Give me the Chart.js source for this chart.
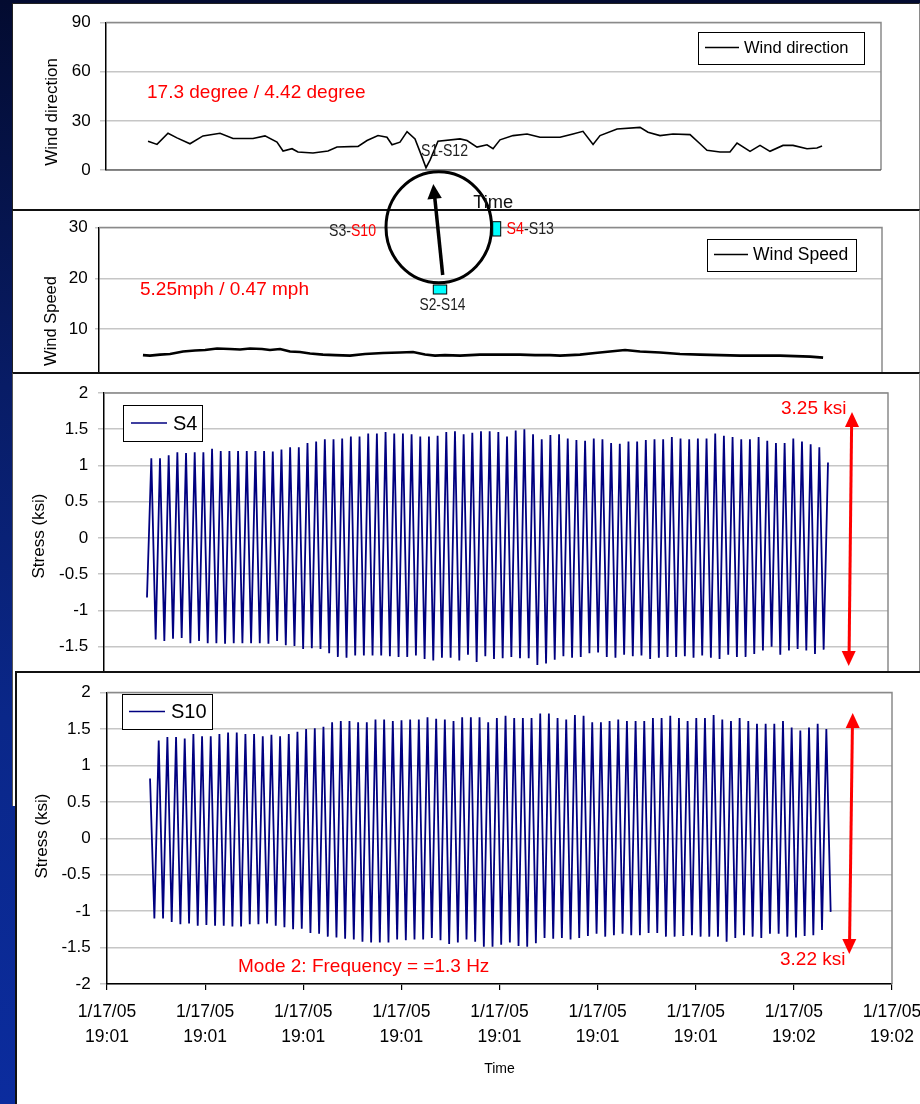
<!DOCTYPE html>
<html><head><meta charset="utf-8">
<script src="https://cdn.jsdelivr.net/npm/chart.js@4.4.1/dist/chart.umd.min.js"></script>
<style>
html,body{margin:0;padding:0;}
body{width:920px;height:1104px;overflow:hidden;position:relative;
background:linear-gradient(180deg,#030b30 0%,#081c66 35%,#0a2789 65%,#0b2c9e 100%);}
.panel{position:absolute;background:#fff;box-sizing:border-box;}
canvas{position:absolute;}
#ov{position:absolute;left:0;top:0;}
</style></head><body>
<div class="panel" style="left:12px;top:3px;width:908px;height:207px;border-left:1px solid #222;border-top:1px solid #222;border-right:1px solid #8a8a8a;"></div>
<canvas id="cA" width="908" height="206" style="left:12px;top:3px"></canvas>
<div class="panel" style="left:12px;top:209px;width:908px;height:164px;border-top:2px solid #111;border-left:1px solid #222;border-right:1px solid #8a8a8a;"></div>
<canvas id="cB" width="908" height="210" style="left:12px;top:210px"></canvas>
<div class="panel" style="left:12px;top:372px;width:908px;height:434px;border-top:2px solid #111;border-left:1px solid #555;border-right:1px solid #8a8a8a;"></div>
<canvas id="cC" width="908" height="350" style="left:12px;top:373px"></canvas>
<div class="panel" style="left:15px;top:671px;width:930px;height:440px;border-top:2px solid #111;border-left:2px solid #111;"></div>
<canvas id="cD" width="945" height="431" style="left:15px;top:673px"></canvas>

<svg id="ov" width="920" height="1104" font-family="Liberation Sans, Arial, sans-serif">
  <g fill="#ff0000" font-size="19" dominant-baseline="central">
    <text x="147" y="91">17.3 degree / 4.42 degree</text>
    <text x="140" y="288">5.25mph / 0.47 mph</text>
    <text x="781" y="407">3.25 ksi</text>
    <text x="238" y="965">Mode 2: Frequency = =1.3 Hz</text>
    <text x="780" y="958">3.22 ksi</text>
  </g>
  <g stroke="#ff0000" stroke-width="3">
    <line x1="851.6" y1="425" x2="849.1" y2="653"/>
    <line x1="852.4" y1="726" x2="849.6" y2="941"/>
  </g>
  <g fill="#ff0000">
    <polygon points="852,412 845,427 859,427"/>
    <polygon points="848.7,666 841.7,651 855.7,651"/>
    <polygon points="852.7,713 845.7,728 859.7,728"/>
    <polygon points="849.3,954 842.3,939 856.3,939"/>
  </g>
  <ellipse cx="438.8" cy="227.2" rx="52.8" ry="55.5" fill="none" stroke="#000" stroke-width="3"/>
  <line x1="442.7" y1="275" x2="434.7" y2="197" stroke="#000" stroke-width="3.5"/>
  <polygon points="433.3,184 427.4,199.4 441.8,197.9" fill="#000"/>
  <rect x="492.7" y="221.7" width="8" height="14.3" fill="#00ffff" stroke="#000" stroke-width="1"/>
  <rect x="433.3" y="285" width="13.4" height="9" fill="#00ffff" stroke="#000" stroke-width="1"/>
  <g font-family="Liberation Sans Narrow, Liberation Sans, Arial, sans-serif" font-size="17" fill="#222" dominant-baseline="central">
    <text x="421" y="150.5" textLength="47" lengthAdjust="spacingAndGlyphs">S1-S12</text>
    <text x="329" y="230" textLength="47" lengthAdjust="spacingAndGlyphs">S3-<tspan fill="#ff0000">S10</tspan></text>
    <text x="506.5" y="228.3" textLength="47.5" lengthAdjust="spacingAndGlyphs"><tspan fill="#ff0000">S4</tspan>-S13</text>
    <text x="419.5" y="304" textLength="46" lengthAdjust="spacingAndGlyphs">S2-S14</text>
  </g>
  <text x="473.3" y="201.7" font-size="18" fill="#111" dominant-baseline="central" textLength="40" lengthAdjust="spacingAndGlyphs">Time</text>
</svg>

<script>
// ---------------- DATA ----------------
// shared time axis (seconds from first tick; one tick = 0.0001 day = 8.64 s)
const xTickTimes = [0, 8.64, 17.28, 25.92, 34.56, 43.2, 51.84, 60.48, 69.12];
const xTickDates = ['1/17/05','1/17/05','1/17/05','1/17/05','1/17/05','1/17/05','1/17/05','1/17/05','1/17/05'];
const xTickClock = ['19:01','19:01','19:01','19:01','19:01','19:01','19:01','19:02','19:02'];

// Wind direction (degree)
const windDirLabel = 'Wind direction';
const windDirTime = [3.75,4.55,5.53,6.33,7.49,8.65,10.17,11.33,13.11,14.18,15.25,15.79,16.59,17.12,18.46,19.80,20.60,22.48,23.28,24.26,25.06,25.51,26.22,26.85,27.56,28.18,28.54,28.90,29.61,31.57,32.20,33.09,33.98,34.52,35.14,36.30,37.55,38.71,40.49,41.65,42.54,43.44,44.06,45.58,47.63,48.34,49.41,50.57,52.09,52.98,53.60,54.76,55.65,56.28,57.44,58.33,59.22,60.38,61.27,62.52,63.41,63.86];
const windDir = [17.6,15.6,22.4,19.6,16.0,20.8,22.4,19.2,19.2,20.8,17.0,11.6,13.0,11.0,10.4,11.6,14.0,14.4,18.0,21.0,20.0,15.4,17.0,23.4,19.0,8.0,1.4,6.0,17.6,19.0,18.0,14.0,15.4,13.0,18.4,21.0,22.0,20.0,20.0,22.0,23.6,15.6,21.0,25.0,26.0,23.0,21.0,22.0,21.6,16.0,12.0,11.0,11.0,16.4,11.4,15.0,11.4,15.0,15.0,13.0,13.4,14.6];

// Wind speed (mph)
const windSpeedLabel = 'Wind Speed';
const windSpeedTime = [3.88,4.50,5.39,6.27,7.42,8.47,9.36,10.42,11.56,12.45,13.33,14.39,15.09,15.98,16.86,17.74,18.63,19.77,20.83,22.16,23.48,25.07,26.57,27.72,28.78,29.66,30.54,31.87,32.75,33.63,34.78,35.84,37.16,38.49,39.81,40.70,41.58,42.46,43.79,45.11,46.44,47.76,49.53,51.29,53.06,54.82,56.59,58.36,60.12,61.44,62.77,63.92];
const windSpeed = [4.9,4.8,5.0,5.1,5.6,5.8,5.9,6.2,6.1,6.0,6.2,6.1,5.9,6.1,5.6,5.5,5.2,5.0,4.9,4.8,5.1,5.3,5.4,5.5,5.0,4.8,4.9,4.8,4.9,5.0,5.0,5.0,5.0,4.9,4.9,4.8,4.9,5.0,5.3,5.6,5.9,5.6,5.4,5.1,5.0,4.9,4.8,4.8,4.8,4.7,4.6,4.4];

// S4 stress (ksi): first sample, cycle peaks, cycle troughs, last sample
const s4Label = 'S4';
const s4Start = 3.79, s4End = 63.83;
const s4First = -0.82, s4Last = 1.04;
const s4Peaks = [1.10,1.10,1.14,1.18,1.17,1.18,1.18,1.23,1.20,1.20,1.20,1.20,1.20,1.20,1.19,1.22,1.25,1.25,1.31,1.33,1.36,1.36,1.37,1.40,1.40,1.44,1.44,1.46,1.44,1.44,1.43,1.40,1.40,1.41,1.46,1.47,
  1.43,1.45,1.47,1.47,1.46,1.40,1.48,1.50,1.43,1.36,1.42,1.43,1.37,1.35,1.34,1.37,1.36,1.31,1.30,1.33,1.33,1.35,1.36,1.36,1.39,1.37,1.36,1.37,1.37,1.44,1.41,1.39,1.36,1.36,1.39,1.34,1.31,1.31,1.37,1.33,1.29,1.25];
const s4Troughs = [-1.40,-1.42,-1.39,-1.38,-1.45,-1.42,-1.45,-1.45,-1.46,-1.45,-1.45,-1.45,-1.45,-1.46,-1.42,-1.48,-1.49,-1.53,-1.52,-1.53,-1.59,-1.64,-1.65,-1.62,-1.62,-1.62,-1.62,-1.63,-1.64,-1.64,-1.62,-1.67,-1.69,-1.65,-1.65,-1.69,
  -1.61,-1.71,-1.63,-1.67,-1.66,-1.64,-1.66,-1.66,-1.75,-1.73,-1.68,-1.63,-1.65,-1.64,-1.59,-1.58,-1.64,-1.65,-1.61,-1.63,-1.62,-1.67,-1.65,-1.64,-1.64,-1.63,-1.65,-1.62,-1.65,-1.67,-1.61,-1.64,-1.64,-1.60,-1.55,-1.50,-1.61,-1.55,-1.53,-1.55,-1.60,-1.54];

// S10 stress (ksi): first sample, cycle troughs, cycle peaks, last sample
const s10Label = 'S10';
const s10Start = 3.79, s10End = 63.72;
const s10First = 0.82, s10Last = -1.01;
const s10Troughs = [-1.10,-1.10,-1.15,-1.18,-1.17,-1.20,-1.19,-1.20,-1.20,-1.21,-1.21,-1.18,-1.18,-1.17,-1.20,-1.22,-1.25,-1.24,-1.30,-1.31,-1.35,-1.36,-1.38,-1.39,-1.42,-1.43,-1.43,-1.43,-1.39,-1.40,-1.39,-1.39,-1.37,-1.40,-1.45,-1.43,
  -1.39,-1.42,-1.49,-1.49,-1.46,-1.43,-1.48,-1.49,-1.44,-1.37,-1.38,-1.37,-1.39,-1.37,-1.34,-1.31,-1.35,-1.33,-1.31,-1.33,-1.33,-1.30,-1.30,-1.35,-1.35,-1.34,-1.33,-1.35,-1.35,-1.35,-1.42,-1.37,-1.33,-1.35,-1.37,-1.31,-1.31,-1.35,-1.36,-1.34,-1.33,-1.26];
const s10Peaks = [1.34,1.39,1.39,1.37,1.43,1.40,1.40,1.43,1.45,1.45,1.43,1.43,1.40,1.42,1.40,1.43,1.46,1.50,1.51,1.53,1.59,1.61,1.61,1.59,1.59,1.63,1.63,1.61,1.62,1.63,1.63,1.66,1.64,1.63,1.61,
  1.66,1.66,1.66,1.59,1.65,1.68,1.65,1.65,1.65,1.71,1.71,1.65,1.63,1.69,1.68,1.59,1.59,1.61,1.63,1.61,1.61,1.61,1.65,1.65,1.68,1.65,1.61,1.65,1.65,1.69,1.63,1.61,1.65,1.61,1.57,1.57,1.57,1.61,1.52,1.48,1.52,1.57,1.50];

const dirTitle = 'Wind direction', speedTitle = 'Wind Speed', stressTitle = 'Stress (ksi)', timeTitle = 'Time';

// ---------------- HELPERS ----------------
Chart.defaults.font.family = "'Liberation Sans', Arial, sans-serif";
Chart.defaults.color = '#000';

function pairs(t, v) { return v.map((y, i) => ({x: t[i], y})); }
function alternate(first, a, b, last) {
  const out = [first];
  for (let i = 0; i < a.length; i++) out.push(a[i], b[i]);
  out.push(last);
  return out;
}
function timed(values, t0, t1) {
  const n = values.length;
  return values.map((y, i) => ({x: t0 + (t1 - t0) * i / (n - 1), y}));
}

const framePlugin = {
  id: 'frame',
  beforeDatasetsDraw(chart, args, o) {
    const {ctx, chartArea: a} = chart;
    ctx.save();
    ctx.strokeStyle = o.color; ctx.lineWidth = 1.5;
    ctx.beginPath();
    ctx.moveTo(a.left, a.top); ctx.lineTo(a.right, a.top); ctx.lineTo(a.right, a.bottom);
    ctx.stroke();
    if (o.bottomColor) {
      ctx.strokeStyle = o.bottomColor; ctx.lineWidth = 1.2;
      ctx.beginPath(); ctx.moveTo(a.left, a.bottom); ctx.lineTo(a.right, a.bottom); ctx.stroke();
    }
    ctx.restore();
  }
};
const boxLegend = {
  id: 'boxLegend',
  afterDraw(chart, args, o) {
    const ds = chart.data.datasets[0], ctx = chart.ctx;
    ctx.save();
    ctx.fillStyle = '#fff'; ctx.fillRect(o.x, o.y, o.w, o.h);
    ctx.strokeStyle = '#000'; ctx.lineWidth = 1; ctx.strokeRect(o.x + 0.5, o.y + 0.5, o.w, o.h);
    ctx.strokeStyle = ds.borderColor; ctx.lineWidth = o.lw;
    ctx.beginPath(); ctx.moveTo(o.lx1, o.ly); ctx.lineTo(o.lx2, o.ly); ctx.stroke();
    ctx.fillStyle = '#000'; ctx.font = o.fontSpec; ctx.textBaseline = 'middle'; ctx.textAlign = 'left';
    ctx.fillText(ds.label, o.tx, o.ly + 1);
    ctx.restore();
  }
};
const sideTitle = {
  id: 'sideTitle',
  afterDraw(chart, args, o) {
    const ctx = chart.ctx;
    ctx.save();
    ctx.translate(o.x, o.y); ctx.rotate(-Math.PI / 2);
    ctx.font = o.fontSpec; ctx.fillStyle = '#000'; ctx.textAlign = 'center'; ctx.textBaseline = 'middle';
    ctx.fillText(o.text, 0, 0);
    ctx.restore();
  }
};

function yAxis(min, max, step, width, tickLen, pad) {
  return {
    type: 'linear', min, max,
    ticks: {stepSize: step, padding: pad, font: {size: 17}, color: '#000',
      callback: v => String(Math.round(v * 100) / 100)},
    grid: {color: '#c6c6c6', lineWidth: 1.5, tickLength: tickLen},
    border: {color: '#000', width: 1.5},
    afterFit(s) { s.width = width; }
  };
}
const hiddenX = {type: 'linear', min: 0, max: 69.12, display: false};

function makeChart(id, cfg) {
  return new Chart(document.getElementById(id), {
    type: 'line',
    data: {datasets: [{
      label: cfg.label, data: cfg.data, borderColor: cfg.color, borderWidth: cfg.lw,
      pointRadius: 0, tension: 0, fill: false
    }]},
    options: {
      responsive: false, animation: false, devicePixelRatio: 1,
      layout: {padding: cfg.padding},
      scales: {x: cfg.x, y: cfg.y},
      plugins: {
        legend: {display: false}, tooltip: {enabled: false},
        frame: cfg.frame, boxLegend: cfg.legend, sideTitle: cfg.title
      }
    },
    plugins: [framePlugin, boxLegend, sideTitle]
  });
}

// ---------------- CHARTS ----------------
makeChart('cA', {
  label: windDirLabel, data: pairs(windDirTime, windDir), color: '#000', lw: 1.6,
  padding: {left: 0, right: 39, top: 17, bottom: 39},
  x: hiddenX, y: yAxis(0, 90, 30, 94, 6, 9.3),
  frame: {color: '#8a8a8a', bottomColor: '#333'},
  legend: {x: 686, y: 29, w: 166, h: 32, lx1: 693, lx2: 727, ly: 44.5, tx: 732, lw: 1.3, fontSpec: "16.5px 'Liberation Sans', Arial"},
  title: {text: dirTitle, x: 40, y: 109, fontSpec: "17px 'Liberation Sans', Arial"}
});

makeChart('cB', {
  label: windSpeedLabel, data: pairs(windSpeedTime, windSpeed), color: '#000', lw: 2.6,
  padding: {left: 0, right: 38, top: 14.7, bottom: 40},
  x: hiddenX, y: yAxis(0, 30, 10, 87, 4, 7.3),
  frame: {color: '#8a8a8a'},
  legend: {x: 695, y: 29, w: 149, h: 32, lx1: 702, lx2: 736, ly: 44.5, tx: 741, lw: 1.3, fontSpec: "17.5px 'Liberation Sans', Arial"},
  title: {text: speedTitle, x: 39.5, y: 111, fontSpec: "16.5px 'Liberation Sans', Arial"}
});

makeChart('cC', {
  label: s4Label, data: timed(alternate(s4First, s4Peaks, s4Troughs, s4Last), s4Start, s4End), color: '#000080', lw: 1.8,
  padding: {left: 0, right: 32, top: 17, bottom: 40},
  x: hiddenX, y: yAxis(-2, 2, 0.5, 92, 6, 9.7),
  frame: {color: '#8a8a8a'},
  legend: {x: 111, y: 32, w: 79, h: 36, lx1: 119, lx2: 155, ly: 50, tx: 161, lw: 1.3, fontSpec: "20px 'Liberation Sans', Arial"},
  title: {text: stressTitle, x: 27, y: 163, fontSpec: "17px 'Liberation Sans', Arial"}
});

makeChart('cD', {
  label: s10Label, data: timed(alternate(s10First, s10Troughs, s10Peaks, s10Last), s10Start, s10End), color: '#000080', lw: 1.8,
  padding: {left: 0, right: 68, top: 16.7, bottom: 0},
  x: {
    type: 'linear', min: 0, max: 69.12,
    afterBuildTicks(s) { s.ticks = xTickTimes.map(v => ({value: v})); },
    ticks: {
      autoSkip: false, maxRotation: 0, padding: 9.2, color: '#000',
      font: {size: 17.5, lineHeight: '25px'},
      callback: (v, i) => [xTickDates[i], xTickClock[i]]
    },
    grid: {drawOnChartArea: false, drawTicks: true, tickLength: 6, color: '#000', lineWidth: 1.2},
    border: {color: '#000', width: 1.5},
    title: {display: true, text: timeTitle, font: {size: 14}, color: '#000', padding: {top: 0, bottom: 26.6}},
    afterFit(s) { s.height = 120; }
  },
  y: yAxis(-2, 2, 0.5, 92, 7, 9.3),
  frame: {color: '#8a8a8a'},
  legend: {x: 107, y: 21, w: 90, h: 35, lx1: 114, lx2: 150, ly: 38.5, tx: 156, lw: 1.3, fontSpec: "20px 'Liberation Sans', Arial"},
  title: {text: stressTitle, x: 27.5, y: 163, fontSpec: "17px 'Liberation Sans', Arial"}
});
</script>
</body></html>
